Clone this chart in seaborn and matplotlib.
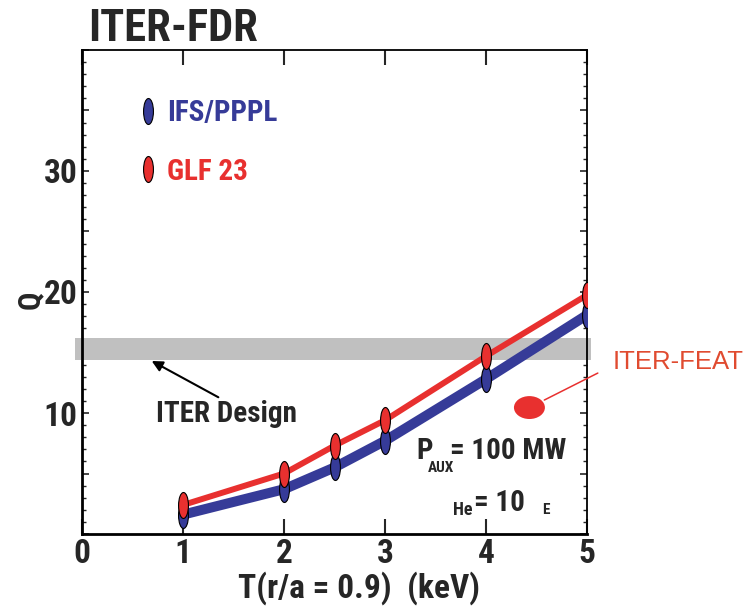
import matplotlib
matplotlib.use("Agg")
import matplotlib.pyplot as plt
import seaborn as sns
import pandas as pd
import numpy as np
from matplotlib.path import Path
from matplotlib.lines import Line2D
from matplotlib.ticker import MultipleLocator, FixedLocator, FuncFormatter

# ---------------- data ----------------
temps = [1, 2, 2.5, 3, 4, 5]
q_ifs = [1.6, 3.7, 5.5, 7.7, 12.8, 18.1]
q_glf = [2.4, 5.0, 7.3, 9.4, 14.7, 19.75]
series_names = ["IFS/PPPL", "GLF 23"]
design_band = [14.4, 16.2]
feat_x = [4.43]
feat_y = [10.45]
x_ticks = [0, 1, 2, 3, 4, 5]
y_labeled = [10, 20, 30]

BLUE = "#363b98"
RED = "#e8302f"
FEAT_RED = "#e04b30"

sns.set_style("ticks")
NARROW = ["Roboto Condensed", "Liberation Sans", "DejaVu Sans"]
plt.rcParams["font.family"] = NARROW

fig = plt.figure(figsize=(7.51, 6.10), dpi=100)
ax = fig.add_axes([82 / 751, 76 / 610, 505 / 751, 484 / 610])

# ellipse markers
circ = Path.unit_circle()
tall = Path(circ.vertices * np.array([0.38, 1.0]), circ.codes)
wide = Path(circ.vertices * np.array([1.0, 0.74]), circ.codes)

df_ifs = pd.DataFrame({"T": temps, "Q": q_ifs})
df_glf = pd.DataFrame({"T": temps, "Q": q_glf})

# design band
band = ax.axhspan(design_band[0], design_band[1], xmin=-0.014, xmax=1.008,
                  color="#c0c0c0", lw=0, zorder=1)
band.set_clip_on(False)

sns.lineplot(data=df_ifs, x="T", y="Q", color=BLUE, lw=7.2, ax=ax, zorder=3)
sns.scatterplot(data=df_ifs, x="T", y="Q", marker=tall, s=350, color=BLUE,
                edgecolor="black", linewidth=0.8, ax=ax, zorder=4)
sns.lineplot(data=df_glf, x="T", y="Q", color=RED, lw=4.3, ax=ax, zorder=5)
sns.scatterplot(data=df_glf, x="T", y="Q", marker=tall, s=350, color=RED,
                edgecolor="black", linewidth=0.8, ax=ax, zorder=6)

sns.scatterplot(x=feat_x, y=feat_y, marker=wide, s=497, color=RED,
                edgecolor="none", linewidth=0, ax=ax, zorder=6)

ax.set_xlim(0, 5)
ax.set_ylim(0, 40)

# ticks
ax.xaxis.set_major_locator(FixedLocator(x_ticks))
ax.yaxis.set_major_locator(MultipleLocator(5))
ax.yaxis.set_minor_locator(MultipleLocator(1))
ax.yaxis.set_major_formatter(FuncFormatter(lambda v, p: str(int(round(v))) if int(round(v)) in y_labeled else ""))
ax.tick_params(axis="x", which="major", direction="in", length=11, width=1.5,
               top=True, bottom=True, labelsize=24, pad=3)
ax.tick_params(axis="y", which="major", direction="in", length=5, width=1.2,
               left=True, right=True, labelsize=24, pad=3)
ax.tick_params(axis="y", which="minor", direction="in", length=2.8, width=1.0,
               left=True, right=True)
for lab in ax.get_xticklabels() + ax.get_yticklabels():
    lab.set_fontweight("bold")
    lab.set_family(NARROW)

for side, lw in [("left", 2.0), ("bottom", 2.0), ("top", 1.3), ("right", 1.3)]:
    ax.spines[side].set_linewidth(lw)
    ax.spines[side].set_color("black")

ax.set_xlabel("T(r/a = 0.9)  (keV)", fontsize=24, fontweight="bold", family=NARROW)
ax.xaxis.set_label_coords((359 - 82) / 505, (534 - 588) / 484)
ax.xaxis.label.set_va("center")
ax.set_ylabel("Q", fontsize=22, fontweight="bold", family=NARROW)
ax.yaxis.set_label_coords((30 - 82) / 505, (534 - 300) / 484)
ax.yaxis.label.set_va("center")

# title
fig.text(88 / 751, 1 - 41 / 610, "ITER-FDR", fontsize=32, fontweight="bold",
         family=NARROW, va="baseline", ha="left")

# legend
handles = [Line2D([], [], ls="none", marker=tall, markersize=18.7, mfc=c, mec="black", mew=0.8)
           for c in (BLUE, RED)]
leg = ax.legend(handles, series_names, loc="upper left",
                bbox_to_anchor=((139 - 82) / 505, (534 - 99) / 484),
                frameon=False, borderpad=0, borderaxespad=0, handlelength=0.6,
                handletextpad=0.35, labelspacing=1.05,
                prop={"family": NARROW, "weight": "bold", "size": 21},
                labelcolor=[BLUE, RED])

# ITER design annotation
ax.text(1.426, 9.9, "ITER Design", fontsize=21, fontweight="bold", family=NARROW,
        ha="center", va="center")
ax.annotate("", xy=(0.69, 14.3), xytext=(1.35, 11.3),
            arrowprops=dict(arrowstyle="-|>", color="black", lw=1.5,
                            mutation_scale=16, shrinkA=0, shrinkB=0))

# ITER-FEAT annotation
ax.annotate("ITER-FEAT", xy=(feat_x[0], feat_y[0]), xytext=(5.25, 14.2),
            textcoords="data", fontsize=18.5, color=FEAT_RED, ha="left", va="center",
            family=["Liberation Sans", "DejaVu Sans"], annotation_clip=False,
            arrowprops=dict(arrowstyle="-", color=RED, lw=1.1, shrinkA=9, shrinkB=12,
                            relpos=(0, 0.35)))

# P_AUX and tau texts
tk = dict(fontweight="bold", family=NARROW, va="baseline", ha="left")
ax.text(3.307, 6.2, "P", fontsize=21, **tk)
ax.text(3.42, 5.15, "AUX", fontsize=11, **tk)
ax.text(3.64, 6.2, "= 100 MW", fontsize=21, **tk)
ax.text(3.673, 1.57, "He", fontsize=13, **tk)
ax.text(3.88, 1.9, "= 10", fontsize=21, **tk)
ax.text(4.554, 1.65, "E", fontsize=11, **tk)

fig.savefig("out.png", dpi=100)
